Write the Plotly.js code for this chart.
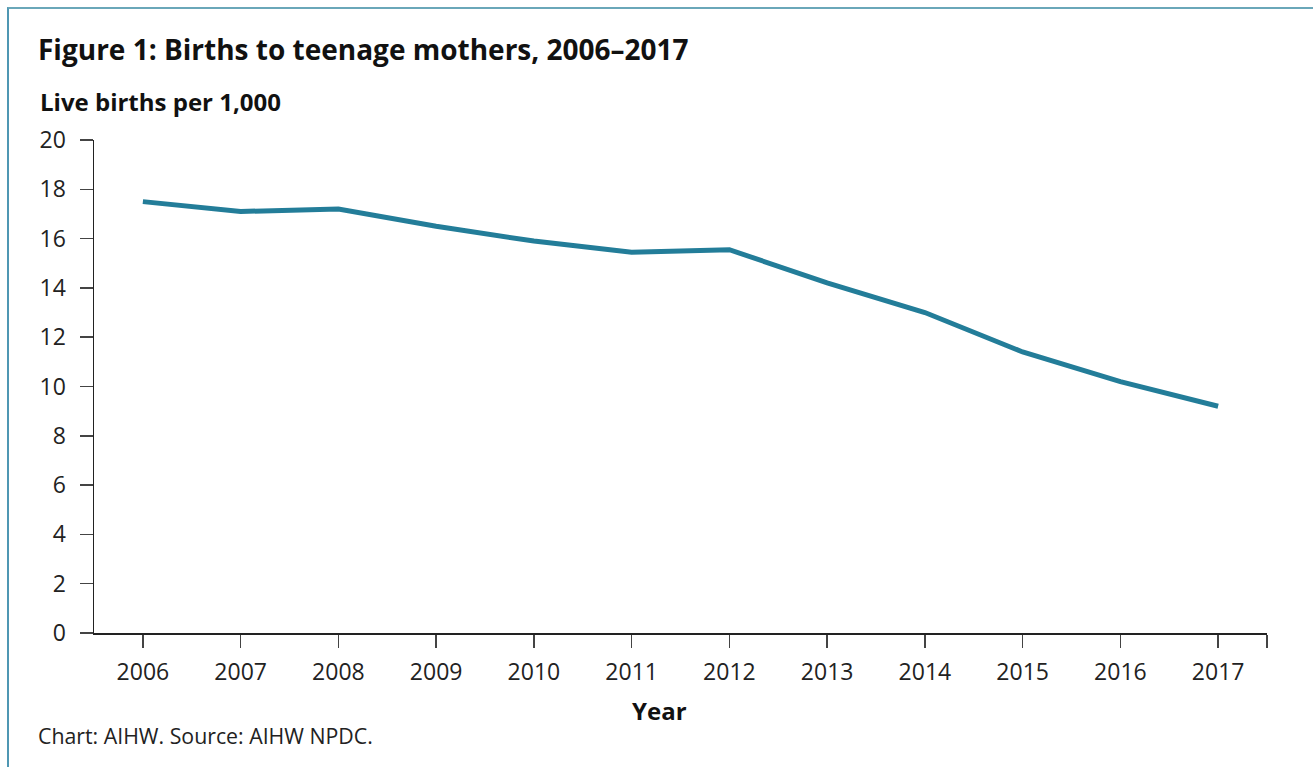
<!DOCTYPE html>
<html>
<head>
<meta charset="utf-8">
<script src="https://cdn.plot.ly/plotly-3.0.1.min.js"></script>
<style>
  html, body { margin: 0; padding: 0; background: #ffffff; overflow: hidden; }
  #frame { position: absolute; left: 7px; top: 7px; width: 1400px; height: 900px;
           border-top: 2px solid #6aa7b9; border-left: 2px solid #4f97b3; box-sizing: border-box; }
  #chart { position: absolute; left: 0; top: 0; width: 1313px; height: 767px; }
</style>
</head>
<body>
<div id="frame"></div>
<div id="chart"></div>
<script>
const years = [2006, 2007, 2008, 2009, 2010, 2011, 2012, 2013, 2014, 2015, 2016, 2017];
const tickLabels = ["2006", "2007", "2008", "2009", "2010", "2011", "2012", "2013", "2014", "2015", "2016", "2017"];
const birthsPer1000 = [17.5, 17.1, 17.2, 16.5, 15.9, 15.45, 15.55, 14.2, 13.0, 11.4, 10.2, 9.2];

const FONT = '"Open Sans", "Noto Sans", sans-serif';

const trace = {
  x: years,
  y: birthsPer1000,
  type: 'scatter',
  mode: 'lines',
  line: { color: '#237d99', width: 5 },
  hoverinfo: 'x+y'
};

const layout = {
  width: 1313,
  height: 767,
  paper_bgcolor: 'rgba(0,0,0,0)',
  plot_bgcolor: 'rgba(0,0,0,0)',
  margin: { l: 94, r: 46, t: 140, b: 134 },
  showlegend: false,
  font: { family: FONT, color: '#222' },
  title: {
    text: '<b>Figure 1: Births to teenage mothers, 2006–2017</b>',
    font: { family: FONT, size: 28, color: '#111' },
    xref: 'container', yref: 'container',
    x: 38 / 1313, xanchor: 'left',
    y: 1 - 50 / 767, yanchor: 'middle'
  },
  xaxis: {
    type: 'linear',
    range: [years[0] - 0.5, years[years.length - 1] + 0.5],
    tickmode: 'array',
    tickvals: years.concat([years[years.length - 1] + 0.5]),
    ticktext: tickLabels.concat(['']),
    ticks: 'outside',
    ticklen: 13,
    tickwidth: 1.5,
    tickcolor: '#444',
    ticklabelstandoff: 5,
    showline: true,
    linecolor: '#222',
    linewidth: 1.5,
    showgrid: false,
    zeroline: false,
    tickfont: { family: FONT, size: 23, color: '#222' },
    fixedrange: true
  },
  yaxis: {
    range: [0, 20],
    tickmode: 'linear',
    tick0: 0,
    dtick: 2,
    ticks: 'outside',
    ticklen: 13,
    tickwidth: 1.5,
    tickcolor: '#444',
    ticklabelstandoff: 9,
    showline: true,
    linecolor: '#222',
    linewidth: 1.5,
    showgrid: false,
    zeroline: false,
    tickfont: { family: FONT, size: 23, color: '#222' },
    fixedrange: true
  },
  annotations: [
    {
      text: '<b>Live births per 1,000</b>',
      xref: 'paper', yref: 'paper',
      x: (38 - 94) / 1173, xanchor: 'left',
      y: 1 + 38 / 492.7, yanchor: 'middle',
      showarrow: false,
      font: { family: FONT, size: 24, color: '#111' }
    },
    {
      text: '<b>Year</b>',
      xref: 'paper', yref: 'paper',
      x: (659 - 94) / 1173, xanchor: 'center',
      y: -(710 - 632.7) / 492.7, yanchor: 'middle',
      showarrow: false,
      font: { family: FONT, size: 24, color: '#111' }
    },
    {
      text: 'Chart: AIHW. Source: AIHW NPDC.',
      xref: 'paper', yref: 'paper',
      x: (36 - 94) / 1173, xanchor: 'left',
      y: -(735 - 632.7) / 492.7, yanchor: 'middle',
      showarrow: false,
      font: { family: FONT, size: 21.3, color: '#222' }
    }
  ]
};

Plotly.newPlot('chart', [trace], layout, { displayModeBar: false, staticPlot: true });
</script>
</body>
</html>
